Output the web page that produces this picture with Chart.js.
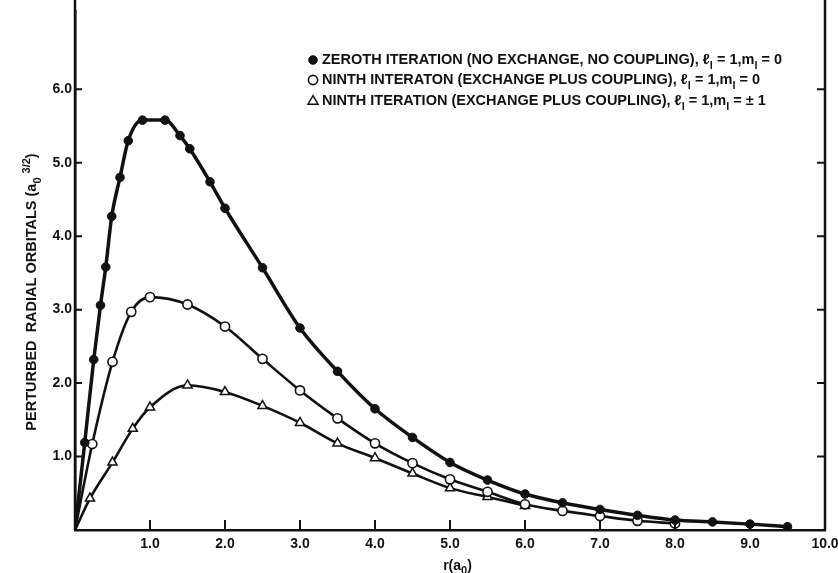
<!DOCTYPE html>
<html>
<head>
<meta charset="utf-8">
<script src="https://cdn.jsdelivr.net/npm/chart.js@4.4.0/dist/chart.umd.min.js"></script>
<style>
  html, body { margin: 0; padding: 0; background: #fff; }
  #wrap { width: 838px; height: 573px; }
</style>
</head>
<body>
<div id="wrap"><canvas id="graph"></canvas></div>
<script>
// zeroth iteration (no exchange, no coupling), l=1, m=0
const rZeroth = [0, 0.13, 0.25, 0.34, 0.41, 0.49, 0.6, 0.71, 0.9, 1.2, 1.4, 1.53, 1.8, 2.0, 2.5, 3.0, 3.5, 4.0, 4.5, 5.0, 5.5, 6.0, 6.5, 7.0, 7.5, 8.0, 8.5, 9.0, 9.5];
const zeroth  = [0, 1.19, 2.32, 3.06, 3.58, 4.27, 4.8, 5.3, 5.58, 5.58, 5.37, 5.19, 4.74, 4.38, 3.57, 2.75, 2.16, 1.65, 1.26, 0.92, 0.68, 0.49, 0.37, 0.28, 0.2, 0.135, 0.11, 0.08, 0.045];

// ninth iteration (exchange plus coupling), l=1, m=0
const rNinthM0 = [0, 0.23, 0.5, 0.75, 1.0, 1.5, 2.0, 2.5, 3.0, 3.5, 4.0, 4.5, 5.0, 5.5, 6.0, 6.5, 7.0, 7.5, 8.0];
const ninthM0  = [0, 1.17, 2.29, 2.97, 3.17, 3.07, 2.77, 2.33, 1.9, 1.52, 1.18, 0.91, 0.69, 0.52, 0.35, 0.26, 0.19, 0.125, 0.09];

// ninth iteration (exchange plus coupling), l=1, m=+-1
const rNinthM1 = [0, 0.2, 0.5, 0.77, 1.0, 1.5, 2.0, 2.5, 3.0, 3.5, 4.0, 4.5, 5.0, 5.5, 6.0];
const ninthM1  = [0, 0.43, 0.92, 1.38, 1.67, 1.97, 1.88, 1.69, 1.46, 1.18, 0.98, 0.77, 0.57, 0.45, 0.33];

const xTicks = [1, 2, 3, 4, 5, 6, 7, 8, 9, 10];
const yTicks = [1, 2, 3, 4, 5, 6];

// _x = subscript, ^{..} = superscript
const seriesLabels = [
  'ZEROTH ITERATION (NO EXCHANGE, NO COUPLING), ℓ_l = 1,m_l = 0',
  'NINTH INTERATON (EXCHANGE PLUS COUPLING), ℓ_l = 1,m_l = 0',
  'NINTH ITERATION (EXCHANGE PLUS COUPLING), ℓ_l = 1,m_l = ± 1'
];
const xTitle = 'r(a_0)';
const yTitle = 'PERTURBED  RADIAL ORBITALS (a_0 ^{3/2})';

const FONT = '"Liberation Sans", Arial, sans-serif';
const INK = '#111';

function toPoints(xs, ys) {
  return xs.map((x, i) => ({ x: x, y: ys[i] }));
}

function richParts(str) {
  const parts = [];
  const re = /_\{([^}]*)\}|\^\{([^}]*)\}|_(.)/g;
  let last = 0, m;
  while ((m = re.exec(str))) {
    if (m.index > last) parts.push({ t: str.slice(last, m.index), s: 0 });
    if (m[1] !== undefined) parts.push({ t: m[1], s: 1 });
    else if (m[2] !== undefined) parts.push({ t: m[2], s: -1 });
    else parts.push({ t: m[3], s: 1 });
    last = re.lastIndex;
  }
  if (last < str.length) parts.push({ t: str.slice(last), s: 0 });
  return parts;
}

function drawRich(ctx, str, x, y, size, align) {
  const parts = richParts(str);
  const fontFor = p => 'bold ' + (p.s ? Math.round(size * 0.78) : size) + 'px ' + FONT;
  let w = 0;
  parts.forEach(p => { ctx.font = fontFor(p); p.w = ctx.measureText(p.t).width; w += p.w; });
  let cx = align === 'center' ? x - w / 2 : x;
  ctx.textAlign = 'left';
  ctx.textBaseline = 'middle';
  parts.forEach(p => {
    ctx.font = fontFor(p);
    ctx.fillText(p.t, cx, y + p.s * size * 0.38);
    cx += p.w;
  });
}

function drawMarker(ctx, ds, x, y) {
  const r = ds.pointRadius[1];
  ctx.save();
  ctx.lineWidth = ds.pointBorderWidth;
  ctx.strokeStyle = INK;
  ctx.fillStyle = ds.pointBackgroundColor;
  ctx.beginPath();
  if (ds.pointStyle === 'triangle') {
    ctx.moveTo(x, y - r);
    ctx.lineTo(x + r * 0.95, y + r * 0.6);
    ctx.lineTo(x - r * 0.95, y + r * 0.6);
    ctx.closePath();
  } else {
    ctx.arc(x, y, r, 0, Math.PI * 2);
  }
  ctx.fill();
  ctx.stroke();
  ctx.restore();
}

const decor = {
  id: 'decor',
  afterDraw(chart) {
    const ctx = chart.ctx;
    const a = chart.chartArea;
    const xs = chart.scales.x, ys = chart.scales.y;
    ctx.save();
    ctx.strokeStyle = INK;
    ctx.fillStyle = INK;

    // frame: axis line runs to the top, plus the right border
    ctx.lineWidth = 2.5;
    ctx.beginPath();
    ctx.moveTo(a.left, 0); ctx.lineTo(a.left, a.bottom);
    ctx.moveTo(a.right, 0); ctx.lineTo(a.right, a.bottom);
    ctx.stroke();

    // inward tick marks
    ctx.lineWidth = 2;
    ctx.beginPath();
    yTicks.forEach(v => {
      const py = ys.getPixelForValue(v);
      ctx.moveTo(a.left, py); ctx.lineTo(a.left + 7, py);
      ctx.moveTo(a.right, py); ctx.lineTo(a.right - 8, py);
    });
    xTicks.forEach(v => {
      if (v >= xs.max) return;
      const px = xs.getPixelForValue(v);
      ctx.moveTo(px, a.bottom); ctx.lineTo(px, a.bottom - 10);
    });
    ctx.stroke();

    // axis titles
    drawRich(ctx, xTitle, xs.getPixelForValue(5.1), 566, 14, 'center');
    ctx.save();
    ctx.translate(32, 292);
    ctx.rotate(-Math.PI / 2);
    drawRich(ctx, yTitle, 0, 0, 14.5, 'center');
    ctx.restore();

    // legend
    const rows = [60, 80, 101];
    chart.data.datasets.forEach((ds, i) => {
      drawMarker(ctx, ds, 313, rows[i]);
      drawRich(ctx, ds.label, 322, rows[i], 14.5, 'left');
    });
    ctx.restore();
  }
};

new Chart(document.getElementById('graph'), {
  type: 'line',
  data: {
    datasets: [
      {
        label: seriesLabels[0],
        data: toPoints(rZeroth, zeroth),
        borderColor: INK,
        borderWidth: 3.5,
        pointStyle: 'circle',
        pointRadius: rZeroth.map((x, i) => i === 0 ? 0 : 4.3),
        pointBackgroundColor: INK,
        pointBorderColor: INK,
        pointBorderWidth: 1,
        cubicInterpolationMode: 'monotone'
      },
      {
        label: seriesLabels[1],
        data: toPoints(rNinthM0, ninthM0),
        borderColor: INK,
        borderWidth: 2.6,
        pointStyle: 'circle',
        pointRadius: rNinthM0.map((x, i) => i === 0 ? 0 : 4.6),
        pointBackgroundColor: '#fff',
        pointBorderColor: INK,
        pointBorderWidth: 1.6,
        cubicInterpolationMode: 'monotone'
      },
      {
        label: seriesLabels[2],
        data: toPoints(rNinthM1, ninthM1),
        borderColor: INK,
        borderWidth: 2.6,
        pointStyle: 'triangle',
        pointRadius: rNinthM1.map((x, i) => i === 0 ? 0 : 5.3),
        pointBackgroundColor: '#fff',
        pointBorderColor: INK,
        pointBorderWidth: 1.5,
        cubicInterpolationMode: 'monotone'
      }
    ]
  },
  options: {
    responsive: true,
    maintainAspectRatio: false,
    animation: false,
    devicePixelRatio: 1,
    layout: { padding: { left: 0, right: 13, top: 0, bottom: 0 } },
    plugins: { legend: { display: false }, tooltip: { enabled: false } },
    scales: {
      x: {
        type: 'linear',
        min: 0,
        max: 10,
        afterBuildTicks: s => { s.ticks = xTicks.map(v => ({ value: v })); },
        afterFit: s => { s.height = 43; s.paddingLeft = 0; s.paddingRight = 0; },
        grid: { display: false, drawTicks: false },
        border: { color: INK, width: 2.5 },
        ticks: {
          color: INK,
          padding: 6,
          maxRotation: 0,
          autoSkip: false,
          font: { family: FONT, size: 14, weight: 'bold' },
          callback: v => v.toFixed(1)
        }
      },
      y: {
        type: 'linear',
        min: 0,
        max: 7.06,
        afterBuildTicks: s => { s.ticks = yTicks.map(v => ({ value: v })); },
        afterFit: s => { s.width = 75; },
        grid: { display: false, drawTicks: false },
        border: { color: INK, width: 2.5 },
        ticks: {
          color: INK,
          padding: 3,
          autoSkip: false,
          font: { family: FONT, size: 14, weight: 'bold' },
          callback: v => v.toFixed(1)
        }
      }
    }
  },
  plugins: [decor]
});
</script>
</body>
</html>
